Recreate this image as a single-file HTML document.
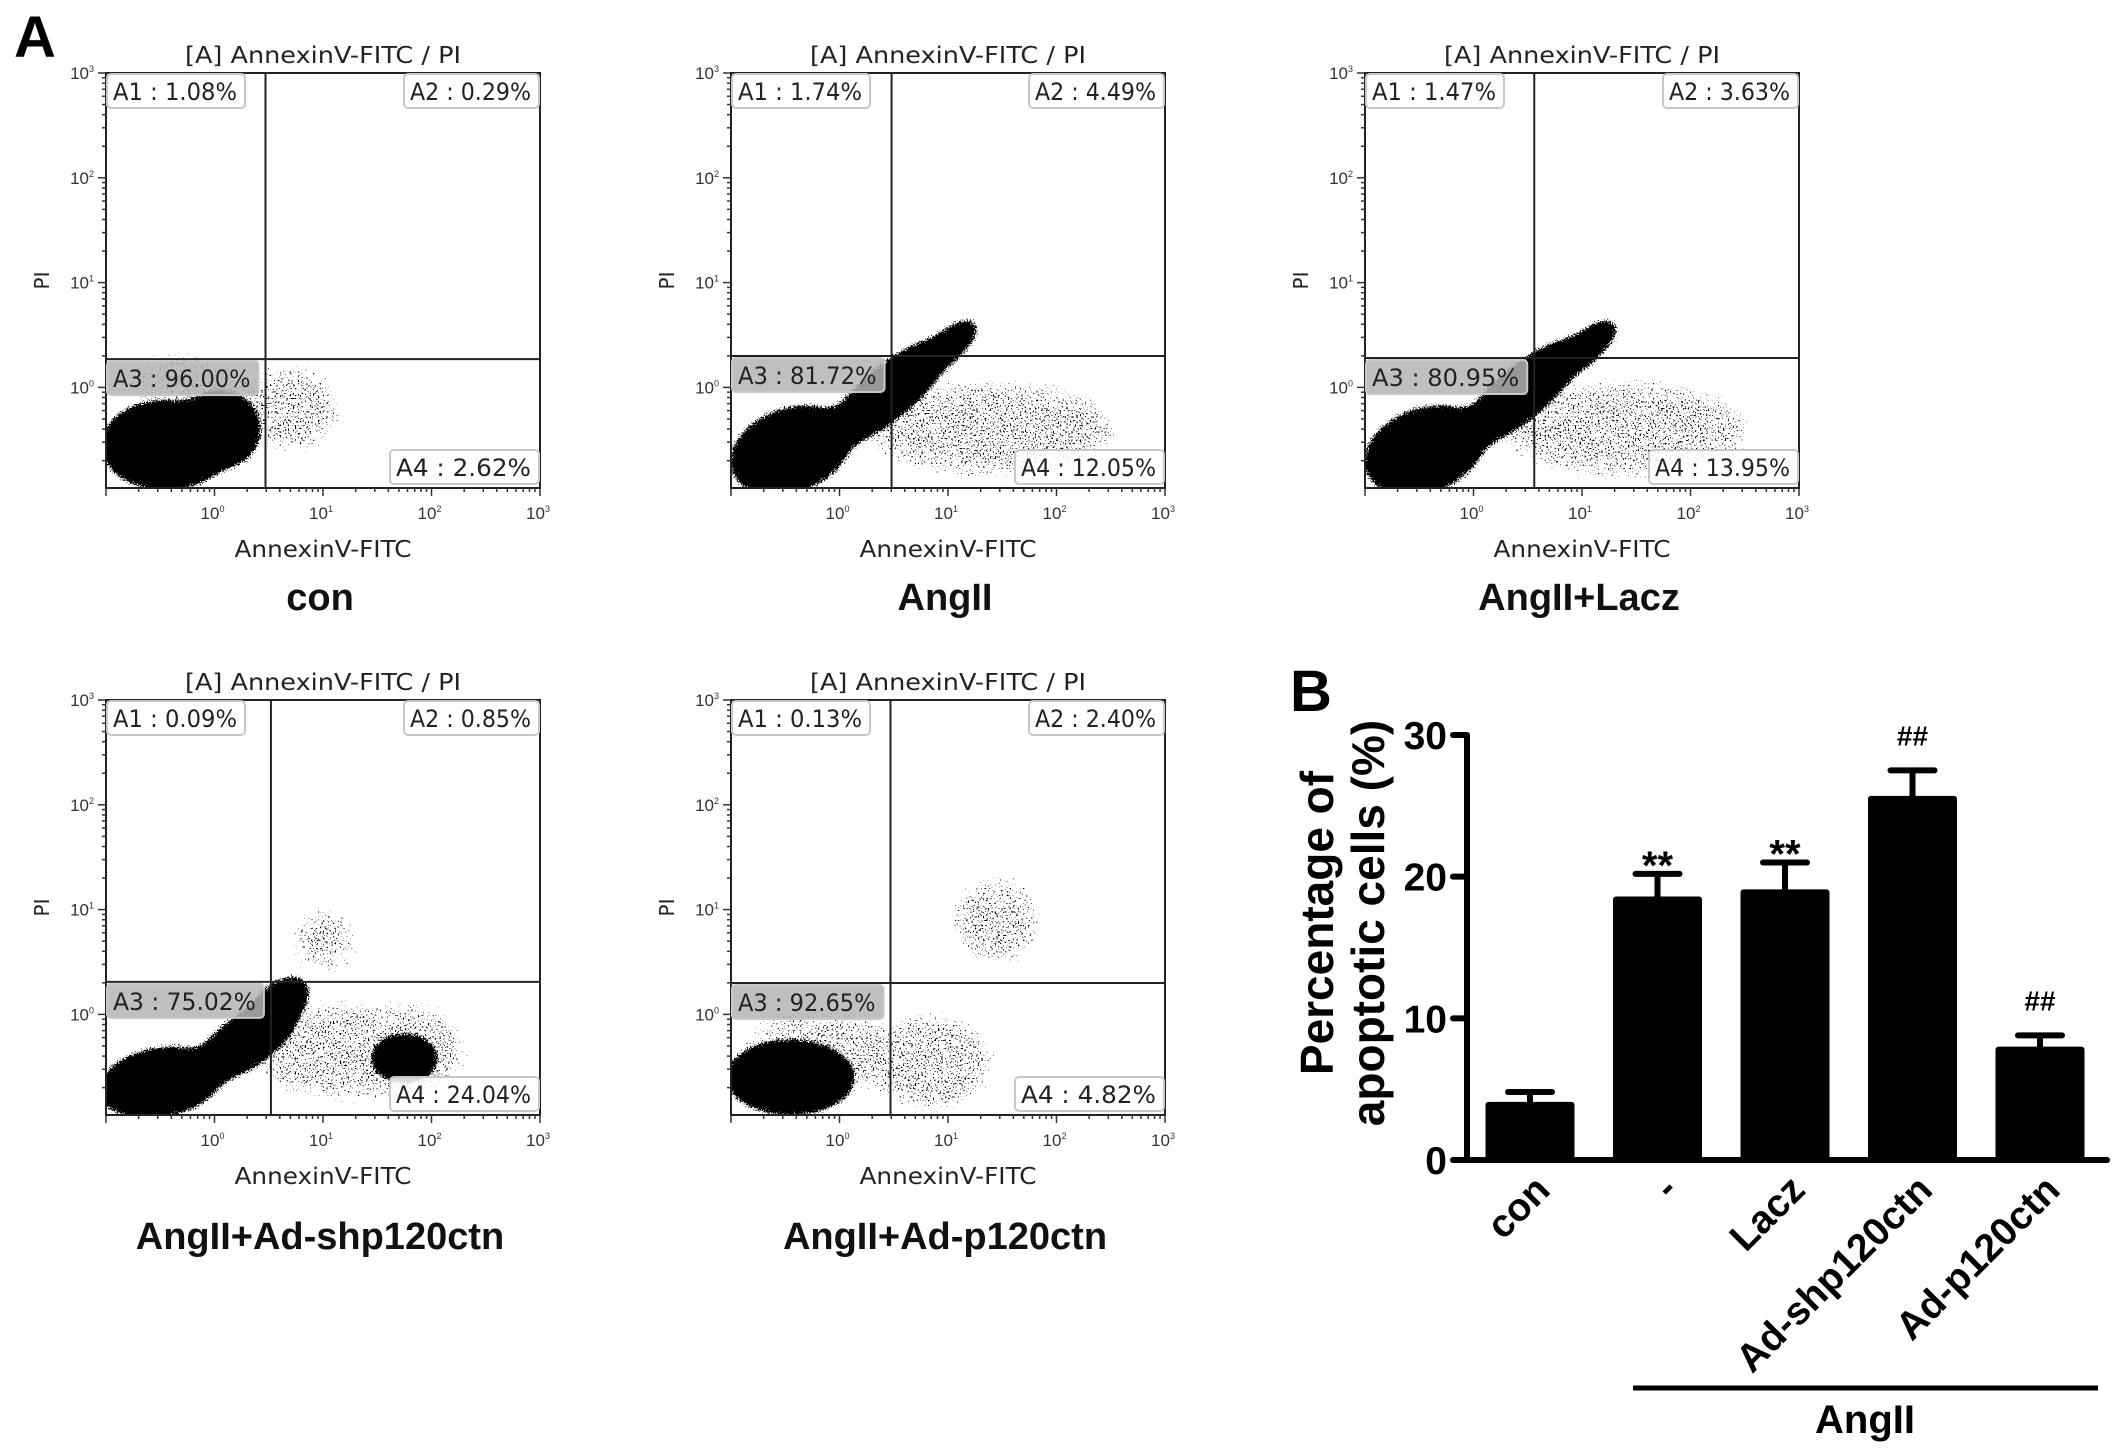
<!DOCTYPE html>
<html><head><meta charset="utf-8"><style>
html,body{margin:0;padding:0;background:#fff}
svg{display:block}
</style></head><body>
<svg id="fig" width="2126" height="1454" viewBox="0 0 2126 1454" xmlns="http://www.w3.org/2000/svg">
<defs>
<filter id="dense" x="-20%" y="-20%" width="140%" height="140%">
<feGaussianBlur in="SourceGraphic" stdDeviation="9" result="b"/>
<feTurbulence type="fractalNoise" baseFrequency="0.7" numOctaves="2" seed="3" result="n"/>
<feColorMatrix in="n" type="matrix" values="0 0 0 0 0 0 0 0 0 0 0 0 0 0 0 1 0 0 0 0" result="na"/>
<feComposite in="b" in2="na" operator="arithmetic" k1="0" k2="2" k3="1" k4="-1.15" result="d"/>
<feComponentTransfer in="d"><feFuncA type="discrete" tableValues="0 1"/></feComponentTransfer>
</filter>
<filter id="sparse" x="-20%" y="-20%" width="140%" height="140%">
<feGaussianBlur in="SourceGraphic" stdDeviation="14" result="b"/>
<feTurbulence type="fractalNoise" baseFrequency="0.6" numOctaves="1" seed="7" result="n"/>
<feColorMatrix in="n" type="matrix" values="0 0 0 0 0 0 0 0 0 0 0 0 0 0 0 3 0 0 0 -1.4" result="na"/>
<feComposite in="b" in2="na" operator="arithmetic" k1="1.6" k2="0" k3="0" k4="0" result="d"/>
<feComponentTransfer in="d"><feFuncA type="discrete" tableValues="0 0 0 1"/></feComponentTransfer>
</filter>
</defs>
</svg>
<script>
// ---------- Panel B bar chart data ----------
const barCategories = ["con", "-", "Lacz", "Ad-shp120ctn", "Ad-p120ctn"];
const barValues = [4.1, 18.6, 19.1, 25.7, 8.0];
const barErrors = [0.7, 1.6, 1.9, 1.8, 0.8];
const barMarks = ["", "**", "**", "##", "##"];
const yTicks = [0, 10, 20, 30];

// ---------- Panel A flow data ----------
const flowTitles = ["con", "AngII", "AngII+Lacz", "AngII+Ad-shp120ctn", "AngII+Ad-p120ctn"];
const flowA1 = ["1.08%", "1.74%", "1.47%", "0.09%", "0.13%"];
const flowA2 = ["0.29%", "4.49%", "3.63%", "0.85%", "2.40%"];
const flowA3 = ["96.00%", "81.72%", "80.95%", "75.02%", "92.65%"];
const flowA4 = ["2.62%", "12.05%", "13.95%", "24.04%", "4.82%"];
const gateX = [0.47, 0.48, 0.56, 0.52, 0.47];
const gateY = [0.27, 0.30, 0.28, 0.31, 0.30];
// density clusters per plot: [logX, logY, rxDecades, ryDecades, angleDeg]
const denseCon = [[-0.45,-0.55,0.62,0.45,0],[0.05,-0.4,0.4,0.4,0]];
const denseAng = [[-0.45,-0.6,0.6,0.42,-20],[0.45,-0.05,0.75,0.27,-40],[0.95,0.35,0.45,0.17,-40]];
const denseLacz = [[-0.45,-0.6,0.6,0.42,-20],[0.45,-0.05,0.75,0.27,-40],[1.0,0.35,0.45,0.17,-40]];
const denseShp = [[-0.5,-0.65,0.6,0.35,-10],[0.3,-0.25,0.6,0.27,-35],[0.6,0.1,0.35,0.22,-40],[1.75,-0.42,0.34,0.26,0]];
const denseP120 = [[-0.45,-0.6,0.62,0.38,0]];
const sparseAll = [
  [[0.7,-0.2,0.5,0.45,0],[-0.3,0.05,0.6,0.3,0]],
  [[1.4,-0.4,1.2,0.5,0]],
  [[1.4,-0.4,1.2,0.5,0]],
  [[1.2,-0.35,0.9,0.5,0],[1.0,0.7,0.35,0.35,-40],[1.75,-0.35,0.6,0.5,0]],
  [[1.45,0.9,0.45,0.45,0],[0.85,-0.45,0.6,0.5,0],[-0.2,-0.35,0.7,0.45,0]]
];
const denseAll = [denseCon, denseAng, denseLacz, denseShp, denseP120];

const NS = "http://www.w3.org/2000/svg";
const svg = document.getElementById("fig");
function mk(tag, attrs, parent, text) {
  const e = document.createElementNS(NS, tag);
  for (const k in attrs) e.setAttribute(k, attrs[k]);
  if (text !== undefined) e.textContent = text;
  (parent || svg).appendChild(e);
  return e;
}
const SANS = "'Liberation Sans', Arial, sans-serif";
const FLOWF = "'DejaVu Sans', 'Liberation Sans', sans-serif";

let t = mk("text", {x: 14, y: 57, "font-family": SANS, "font-weight": "bold", "font-size": 58});
t.textContent = "A";


t = mk("text", {x: 1290, y: 711, "font-family": SANS, "font-weight": "bold", "font-size": 58});
t.textContent = "B";



const plotLeft = [106, 731, 1365, 106, 731];
const plotTop = [73, 73, 73, 700, 700];
const PW = 434, PH = 415;
const XMIN = -1, XMAX = 3, YMIN = -0.96, YMAX = 3;

for (let p = 0; p < 5; p++) {
  const L = plotLeft[p], T = plotTop[p];
  const sx = v => L + (v - XMIN) / (XMAX - XMIN) * PW;
  const sy = v => T + PH - (v - YMIN) / (YMAX - YMIN) * PH;
  const g = mk("g", {});
  
  
  const cid = "clip" + p;
  const cp = mk("clipPath", {id: cid}, g);
  mk("rect", {x: L, y: T, width: PW, height: PH}, cp);
  const inner = mk("g", {"clip-path": "url(#" + cid + ")"}, g);
  const sg = mk("g", {filter: "url(#sparse)", fill: "#444"}, inner);
  sparseAll[p].forEach(c => {
    const e = mk("ellipse", {cx: sx(c[0]), cy: sy(c[1]), rx: c[2] * PW / 4, ry: c[3] * PH / 3.96,
      transform: "rotate(" + c[4] + " " + sx(c[0]) + " " + sy(c[1]) + ")"}, sg);
    
    
  });
  const dg = mk("g", {filter: "url(#dense)", fill: "#111"}, inner);
  denseAll[p].forEach(c => {
    const e = mk("ellipse", {cx: sx(c[0]), cy: sy(c[1]), rx: c[2] * PW / 4, ry: c[3] * PH / 3.96,
      transform: "rotate(" + c[4] + " " + sx(c[0]) + " " + sy(c[1]) + ")"}, dg);
    
    
  });
  mk("rect", {x: L, y: T, width: PW, height: PH, fill: "none", stroke: "#222", "stroke-width": 2}, g);
  const gx = sx(gateX[p]), gy = sy(gateY[p]);
  let ln = mk("line", {x1: gx, y1: T, x2: gx, y2: T + PH, stroke: "#222", "stroke-width": 2}, g);
  
  
  ln = mk("line", {x1: L, y1: gy, x2: L + PW, y2: gy, stroke: "#222", "stroke-width": 2}, g);
  
  
  for (let d = -1; d <= 3; d++) {
    for (let m = 1; m <= 9; m++) {
      const v = d + Math.log10(m);
      if (v < XMIN - 1e-6 || v > XMAX + 1e-6) continue;
      const len = m === 1 ? 8 : 4;
      mk("line", {x1: sx(v), y1: T + PH, x2: sx(v), y2: T + PH + len, stroke: "#333", "stroke-width": 1.5}, g);
    }
    for (let m = 1; m <= 9; m++) {
      const v = d + Math.log10(m);
      if (v < YMIN - 1e-6 || v > YMAX + 1e-6) continue;
      const len = m === 1 ? 8 : 4;
      mk("line", {x1: L - len, y1: sy(v), x2: L, y2: sy(v), stroke: "#333", "stroke-width": 1.5}, g);
    }
  }
  for (let d = 0; d <= 3; d++) {
    let tx = mk("text", {x: sx(d) - 2, y: T + PH + 31, "text-anchor": "middle", "font-family": SANS, "font-size": 17, fill: "#333"}, g);
    tx.textContent = "10";
    mk("tspan", {dy: -7, "font-size": 9}, tx, String(d));
    
    
    tx = mk("text", {x: L - 12, y: sy(d) + 6, "text-anchor": "end", "font-family": SANS, "font-size": 17, fill: "#333"}, g);
    tx.textContent = "10";
    mk("tspan", {dy: -7, "font-size": 9}, tx, String(d));
    
    
  }
  let tt = mk("text", {x: L + PW / 2, y: T - 10, "text-anchor": "middle", "font-family": FLOWF, "font-size": 23, fill: "#222", textLength: 276, lengthAdjust: "spacingAndGlyphs"}, g, "[A] AnnexinV-FITC / PI");
  
  
  tt = mk("text", {x: L + PW / 2, y: T + PH + 69, "text-anchor": "middle", "font-family": FLOWF, "font-size": 23, fill: "#222", textLength: 177, lengthAdjust: "spacingAndGlyphs"}, g, "AnnexinV-FITC");
  
  
  tt = mk("text", {x: L - 57, y: T + PH / 2, "text-anchor": "middle", "font-family": FLOWF, "font-size": 20, fill: "#222", transform: "rotate(-90 " + (L - 57) + " " + (T + PH / 2) + ")"}, g, "PI");
  
  
  const quad = (label, x, y, w, fillc, name) => {
    const q = mk("g", {}, g);
    
    
    mk("rect", {x: x, y: y, width: w, height: 34, rx: 4, fill: fillc, stroke: "#c8c8c8", "stroke-width": 2}, q);
    mk("text", {x: x + 6, y: y + 26, "font-family": FLOWF, "font-size": 24, fill: "#222", textLength: w - 14, lengthAdjust: "spacingAndGlyphs"}, q, label);
  };
  quad("A1 : " + flowA1[p], L + 1, T + 1, 138, "rgba(255,255,255,0.85)", "quadrant-a1-label");
  quad("A2 : " + flowA2[p], L + PW - 136, T + 1, 135, "rgba(255,255,255,0.85)", "quadrant-a2-label");
  quad("A3 : " + flowA3[p], L + 1, gy + 2, gx - L - 8, "rgba(180,180,180,0.85)", "quadrant-a3-label");
  quad("A4 : " + flowA4[p], L + PW - 150, T + PH - 38, 149, "rgba(255,255,255,0.85)", "quadrant-a4-label");
  const gyl = p < 3 ? 610 : 1249;
  tt = mk("text", {x: L + PW / 2 - 3, y: gyl, "text-anchor": "middle", "font-family": SANS, "font-weight": "bold", "font-size": 38, fill: "#111"}, g, flowTitles[p]);
  
  
}

// ---------- Bar chart ----------
const AX = 1467, Y0 = 1160, YT = 735, XEND = 2107;
const yS = v => Y0 - (v / 30) * (Y0 - YT);
const BW = 89, C0 = 1530, STEP = 127.5;
const xC = i => C0 + i * STEP;
const bg = mk("g", {});


barValues.forEach((v, i) => {
  const r = mk("rect", {x: xC(i) - BW / 2, y: yS(v), width: BW, height: Y0 - yS(v), rx: 3, fill: "#000"}, bg);
  
  
  const top = yS(v + barErrors[i]);
  const e = mk("g", {stroke: "#000", "stroke-width": 6, "stroke-linecap": "round"}, bg);
  
  
  mk("line", {x1: xC(i), y1: yS(v), x2: xC(i), y2: top}, e);
  mk("line", {x1: xC(i) - 22, y1: top, x2: xC(i) + 22, y2: top}, e);
  if (barMarks[i]) {
    const star = barMarks[i] === "**";
    const m = mk("text", {x: xC(i), y: top - (star ? -5 : 25), "text-anchor": "middle", "font-family": SANS, "font-weight": "bold", "font-size": star ? 40 : 28}, bg, barMarks[i]);
    
    
  }
  const lx = xC(i) + 22, ly = Y0 + 32;
  const lab = mk("text", {x: lx, y: ly, "text-anchor": "end", "font-family": SANS, "font-weight": "bold", "font-size": 39, transform: "rotate(-45 " + lx + " " + ly + ")"}, bg, barCategories[i]);
  
  
});
mk("line", {x1: AX, y1: YT, x2: AX, y2: Y0, stroke: "#000", "stroke-width": 6}, bg);
mk("line", {x1: AX - 3, y1: Y0, x2: XEND, y2: Y0, stroke: "#000", "stroke-width": 6, "stroke-linecap": "round"}, bg);
yTicks.forEach(v => {
  mk("line", {x1: AX - 14, y1: yS(v), x2: AX, y2: yS(v), stroke: "#000", "stroke-width": 6, "stroke-linecap": "round"}, bg);
  const tl = mk("text", {x: AX - 20, y: yS(v) + 14, "text-anchor": "end", "font-family": SANS, "font-weight": "bold", "font-size": 39}, bg, String(v));
  
  
});
let yt = mk("text", {x: 1333, y: 923, "text-anchor": "middle", "font-family": SANS, "font-weight": "bold", "font-size": 46, transform: "rotate(-90 1333 923)"}, bg, "Percentage of");


yt = mk("text", {x: 1384, y: 923, "text-anchor": "middle", "font-family": SANS, "font-weight": "bold", "font-size": 46, transform: "rotate(-90 1384 923)"}, bg, "apoptotic cells (%)");


const br = mk("line", {x1: 1633, y1: 1388, x2: 2098, y2: 1388, stroke: "#000", "stroke-width": 5}, bg);


const gl = mk("text", {x: 1865, y: 1433, "text-anchor": "middle", "font-family": SANS, "font-weight": "bold", "font-size": 40}, bg, "AngII");


</script>
</body></html>
